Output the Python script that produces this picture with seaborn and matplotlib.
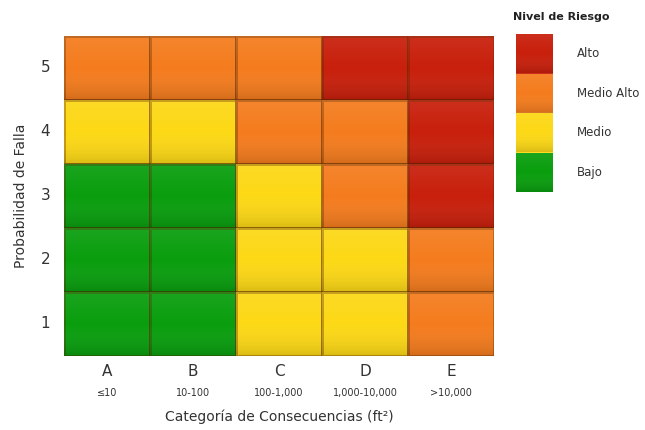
import numpy as np
import pandas as pd
import matplotlib
matplotlib.use("Agg")
import matplotlib.pyplot as plt
from matplotlib.colors import ListedColormap, LinearSegmentedColormap
import seaborn as sns

# Risk matrix data
prob_levels = ["5", "4", "3", "2", "1"]
cons_letters = ["A", "B", "C", "D", "E"]
cons_ranges = ["≤10", "10-100", "100-1,000", "1,000-10,000", ">10,000"]
# 0 = Bajo, 1 = Medio, 2 = Medio Alto, 3 = Alto
risk_grid = [
    [2, 2, 2, 3, 3],
    [1, 1, 2, 2, 3],
    [0, 0, 1, 2, 3],
    [0, 0, 1, 1, 2],
    [0, 0, 1, 1, 2],
]
level_names = ["Bajo", "Medio", "Medio Alto", "Alto"]
level_colors = ["#0a9e0e", "#fcd816", "#f47c1e", "#c8200c"]

sns.set_theme(style="white")
plt.rcParams["font.family"] = ["DejaVu Sans"]
text_color = "#333333"

fig = plt.figure(figsize=(6.45, 4.3), dpi=100)
ax = fig.add_axes([64 / 645, 1 - 356 / 430, 430 / 645, 320 / 430])

cmap = ListedColormap(level_colors)
df = pd.DataFrame(risk_grid, index=prob_levels, columns=cons_letters)
sns.heatmap(df, ax=ax, cmap=cmap, vmin=-0.5, vmax=3.5, cbar=False,
            linewidths=0.9, linecolor=(0.35, 0.15, 0.0, 0.35))

# vertical shading inside each row: slightly lighter top, darker bottom
shade = LinearSegmentedColormap.from_list(
    "shade", [(1, 1, 1, 0.07), (1, 1, 1, 0.0), (0, 0, 0, 0.13)])
grad = np.linspace(0, 1, 64).reshape(-1, 1)


def add_shading(axis, nrows, ncols):
    for r in range(nrows):
        axis.imshow(grad, cmap=shade, aspect="auto", interpolation="bilinear",
                    extent=[0, ncols, r + 1, r], zorder=2)
    axis.set_xlim(0, ncols)
    axis.set_ylim(nrows, 0)


add_shading(ax, 5, 5)

ax.set_xticks(np.arange(5) + 0.5)
ax.set_xticklabels(cons_letters, fontsize=11, color=text_color)
ax.set_yticks(np.arange(5) + 0.5)
ax.set_yticklabels(prob_levels, fontsize=11, color=text_color, rotation=0)
ax.tick_params(axis="x", pad=6, length=0)
ax.tick_params(axis="y", pad=10, length=0)
for i, rng in enumerate(cons_ranges):
    ax.text(i + 0.5, -0.115, rng, transform=ax.get_xaxis_transform(),
            ha="center", va="center", fontsize=7, color=text_color)
ax.set_xlabel("Categoría de Consecuencias (ft²)", fontsize=10,
              color=text_color, labelpad=22)
ax.set_ylabel("Probabilidad de Falla", fontsize=10, color=text_color,
              labelpad=9)
for s in ax.spines.values():
    s.set_visible(False)

# legend as a one-column heatmap
lax = fig.add_axes([516 / 645, 1 - 192 / 430, 37 / 645, 158 / 430])
legend_vals = pd.DataFrame({"v": [3, 2, 1, 0]})
sns.heatmap(legend_vals, ax=lax, cmap=cmap, vmin=-0.5, vmax=3.5, cbar=False,
            linewidths=0, xticklabels=False, yticklabels=False)
add_shading(lax, 4, 1)
lax.set_xlabel("")
lax.set_ylabel("")
for i, v in enumerate([3, 2, 1, 0]):
    lax.text(1.65, i + 0.5, level_names[v], ha="left", va="center",
             fontsize=8.5, color=text_color, clip_on=False)
fig.text(513 / 645, 1 - 17 / 430, "Nivel de Riesgo", fontsize=8,
         fontweight="bold", color="#222222", ha="left", va="center")

fig.savefig("out.png", dpi=100, facecolor="white")
